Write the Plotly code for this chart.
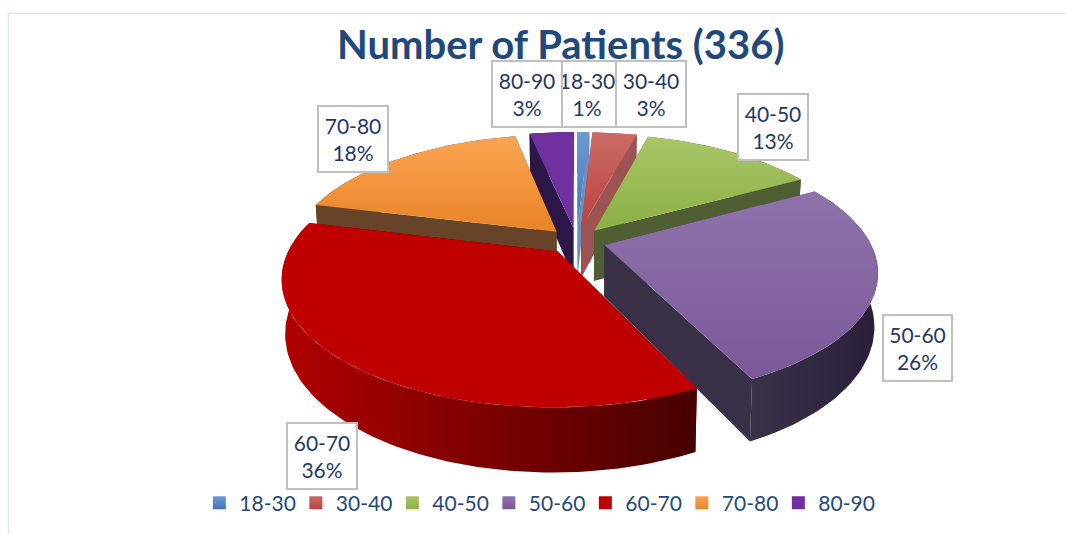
import math
import plotly.graph_objects as go

age_groups = ["18-30", "30-40", "40-50", "50-60", "60-70", "70-80", "80-90"]
patients = [3, 11, 43, 87, 121, 60, 11]
title_text = "Number of Patients (336)"

top_light = ["#6f9bd0", "#cc6b66", "#a9c668", "#8e73ab", "#c00000", "#fba453", "#7030a0"]
top_dark = ["#3f74b6", "#b8423f", "#8cb044", "#7b5899", "#c00000", "#e98427", "#7030a0"]
cut_colors = ["#6a8fc0", "#9c5352", "#4f5f33", "#3a3048", "#500000", "#674328", "#2d1648"]
wall_left = ["#6a8fc0", "#9c5352", "#4f5f33", "#3b3149", "#b00000", "#674328", "#2d1648"]
wall_right = ["#6a8fc0", "#9c5352", "#4f5f33", "#2a1f38", "#470000", "#674328", "#2d1648"]

label_order = ["18-30", "80-90", "30-40", "40-50", "50-60", "60-70", "70-80"]
label_boxes = {
    "18-30": (587, 94, 60),
    "80-90": (527, 94, 72),
    "30-40": (651, 94, 72),
    "40-50": (773, 127, 72),
    "50-60": (917, 348, 71),
    "60-70": (322, 456, 72),
    "70-80": (353, 139, 72),
}

CX, CY, SX, SY, K, H, EXPLODE = 576.5, 241, 265, 120, 0.20, 51, 0.11
W, HT = 1066, 534


def project(x, y, depth=0.0):
    p = 1 / (1 + K * y)
    return (CX + SX * x * p * (1 - 0.012 * depth), CY - SY * y * p + H * depth * p)


total = sum(patients)
spans = []
acc = 0.0
for v in patients:
    spans.append((acc / total * 2 * math.pi, (acc + v) / total * 2 * math.pi))
    acc += v


def poly(points, name, color=None, grad=None):
    xs = [pt[0] for pt in points] + [points[0][0]]
    ys = [pt[1] for pt in points] + [points[0][1]]
    kw = dict(x=xs, y=ys, mode="lines", fill="toself", line=dict(width=0.5, color="rgba(0,0,0,0)"),
              showlegend=False, name=name, hoverinfo="skip")
    if grad:
        kw["fillgradient"] = dict(type=grad[0], colorscale=[[0, grad[1]], [1, grad[2]]])
        kw["fillcolor"] = grad[1]
    else:
        kw["fillcolor"] = color
    return go.Scatter(**kw)


fig = go.Figure()
for i in [6, 0, 1, 2, 5, 3, 4]:
    t0, t1 = spans[i]
    mid = (t0 + t1) / 2
    ox, oy = EXPLODE * math.sin(mid), EXPLODE * math.cos(mid)
    n = max(4, int((t1 - t0) * 40))
    angles = [t0 + (t1 - t0) * j / n for j in range(n + 1)]
    rim = [(ox + math.sin(a), oy + math.cos(a)) for a in angles]
    name = age_groups[i]
    for edge in (rim[0], rim[-1]):
        fig.add_trace(poly([project(ox, oy), project(*edge), project(*edge, 1), project(ox, oy, 1)], name, cut_colors[i]))
    upper = [project(*r) for r in rim]
    lower = [project(*r, 1) for r in rim]
    fig.add_trace(poly(upper + lower[::-1], name, grad=("horizontal", wall_left[i], wall_right[i])))
    fig.add_trace(poly([project(ox, oy)] + upper, name, grad=("vertical", top_dark[i], top_light[i])))

for i, name in enumerate(age_groups):
    fig.add_trace(go.Scatter(
        x=[None], y=[None], mode="markers", name=name, showlegend=True,
        marker=dict(symbol="square", size=13, color=top_light[i],
                    gradient=dict(type="vertical", color=top_dark[i]))))

for name in label_order:
    i = age_groups.index(name)
    bx, by, bw = label_boxes[name]
    pct = round(patients[i] / total * 100)
    fig.add_annotation(x=bx, y=by, xref="x", yref="y", text=f"{name}<br>{pct}%", showarrow=False,
                       width=bw - 4, height=64, bgcolor="white", bordercolor="#bfbfbf", borderwidth=2,
                       borderpad=0, font=dict(family="Lato", size=21, color="#1f3864"), align="center")

fig.add_annotation(x=560, y=44, xref="x", yref="y", text=f"<b>{title_text}</b>", showarrow=False,
                   font=dict(family="Lato", size=40, color="#1f497d"))

fig.add_shape(type="line", x0=8.5, x1=8.5, y0=13.5, y1=534, xref="x", yref="y", line=dict(color="#dce6f2", width=1.5))
fig.add_shape(type="line", x0=8.5, x1=1066, y0=13.5, y1=13.5, xref="x", yref="y", line=dict(color="#dce6f2", width=1.5))

fig.update_layout(
    width=W, height=HT, margin=dict(l=0, r=0, t=0, b=0),
    paper_bgcolor="white", plot_bgcolor="white",
    xaxis=dict(range=[0, W], visible=False, fixedrange=True),
    yaxis=dict(range=[HT, 0], visible=False, fixedrange=True),
    legend=dict(orientation="h", x=0.187, y=0.058, xanchor="left", yanchor="middle",
                entrywidth=51.5, entrywidthmode="pixels", itemwidth=30,
                font=dict(family="Lato", size=21, color="#1f497d"), bgcolor="rgba(0,0,0,0)"),
)
fig.write_html("out.html", config={"displayModeBar": False},
               post_script="document.body.style.margin='0';document.body.style.overflow='hidden';")
